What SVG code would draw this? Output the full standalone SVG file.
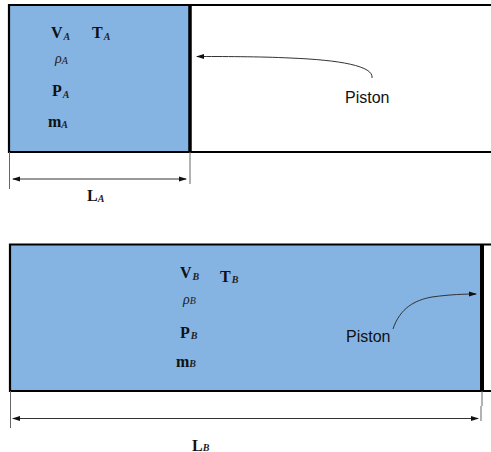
<svg xmlns="http://www.w3.org/2000/svg" width="491" height="452" viewBox="0 0 491 452">
<style>
.wall{fill:none;stroke:#000;stroke-width:2.2}
.fillg{fill:#85b4e2}
.thin{fill:none;stroke:#333;stroke-width:1}
.grey{fill:none;stroke:#666;stroke-width:1}
.m{font-family:"Liberation Serif",serif;font-weight:bold;font-size:16px;fill:#111}
.rho{font-family:"Liberation Serif",serif;font-style:italic;font-size:14px;fill:#222}
.s{font-family:"Liberation Serif",serif;font-style:italic;font-size:10px;fill:#222}
.p{font-family:"Liberation Sans",sans-serif;font-size:16px;fill:#111}
</style>
<defs>
<marker id="ah" viewBox="0 0 8 6" refX="7" refY="3" markerWidth="8" markerHeight="6" markerUnits="userSpaceOnUse" orient="auto-start-reverse"><path d="M0 0.5L8 3L0 5.500z" fill="#111"/></marker>
</defs>
<g id="cylinder-a">
<rect class="fillg" x="9" y="5" width="180" height="147"/>
<path class="wall" d="M491 5H9V152H491"/>
<path d="M190 5V152" fill="none" stroke="#000" stroke-width="3.500"/>
</g>
<g id="labels-a">
<text class="m" x="51" y="38">V<tspan class="s" dx="1" dy="2">A</tspan></text>
<text class="m" x="92" y="38">T<tspan class="s" dx="1" dy="2">A</tspan></text>
<text class="rho" x="55" y="63">ρ<tspan class="s" dy="1">A</tspan></text>
<text class="m" x="52" y="96">P<tspan class="s" dx="1" dy="2">A</tspan></text>
<text class="m" x="48" y="127">m<tspan class="s" dy="1">A</tspan></text>
<text class="m" x="87" y="201">L<tspan class="s" dy="1">A</tspan></text>
<text class="p" x="345" y="103">Piston</text>
</g>
<g id="cylinder-b">
<rect class="fillg" x="9" y="244" width="471" height="147"/>
<path class="wall" d="M491 244.500H10V391H491"/>
<path d="M482 244V391" fill="none" stroke="#000" stroke-width="4"/>
</g>
<g id="labels-b">
<text class="m" x="180" y="278">V<tspan class="s" dx="1" dy="2">B</tspan></text>
<text class="m" x="220" y="282">T<tspan class="s" dx="1" dy="1">B</tspan></text>
<text class="rho" x="183" y="304">ρ<tspan class="s" dy="0">B</tspan></text>
<text class="m" x="180" y="338">P<tspan class="s" dx="1" dy="1">B</tspan></text>
<text class="m" x="176" y="367">m<tspan class="s" dy="0">B</tspan></text>
<text class="m" x="192" y="451">L<tspan class="s" dy="0">B</tspan></text>
<text class="p" x="346" y="342">Piston</text>
</g>
<g id="connectors">
<path class="grey" d="M9.500 152V189"/>
<path class="grey" d="M190 152V184"/>
<path class="thin" d="M13 179H186" marker-start="url(#ah)" marker-end="url(#ah)"/>
<path class="thin" d="M372 78C374 66 340 60 290 58C260 56.500 220 56.500 197 56.500" marker-end="url(#ah)"/>
<path class="thin" d="M393 329C400 308 415 300 432 297C450 294.500 465 294 476 294" marker-end="url(#ah)"/>
<path class="grey" d="M10.500 391V428"/>
<path class="grey" d="M482 391V406M481 406V421"/>
<path class="thin" d="M13 418.500H478" marker-start="url(#ah)" marker-end="url(#ah)"/>
</g>
</svg>
